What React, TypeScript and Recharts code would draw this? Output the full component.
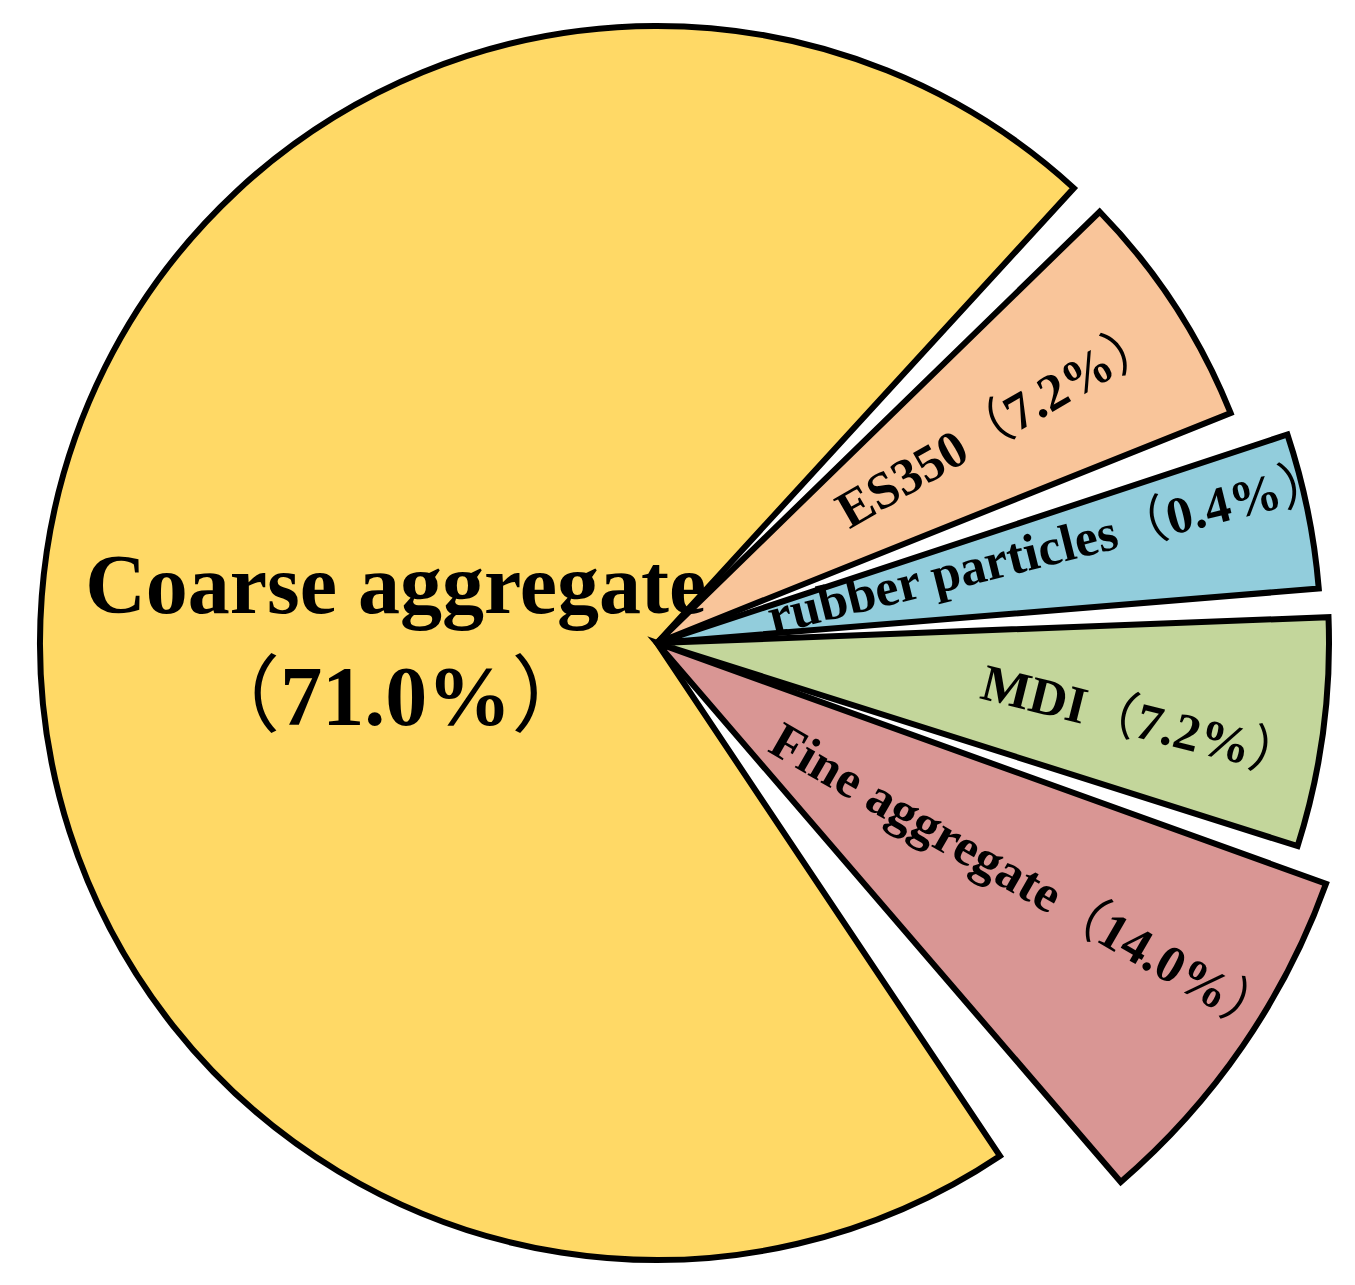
import React from 'react';
import { PieChart, Pie, Cell } from 'recharts';

// Slices in drawing order (counter-clockwise from the top-right edge of the big slice)
const categories = ['Coarse aggregate', 'Fine aggregate', 'MDI', 'rubber particles', 'ES350'];
// Percentages printed in the labels
const shareLabels = ['71.0', '14.0', '7.2', '0.4', '7.2'];
// Angular size of each drawn slice (degrees)
const sliceSweeps = [256.3, 29.5, 19.8, 13.6, 22.4];
// White gap that follows each slice (degrees)
const gapSweeps = [6.95, 2.2, 2.5, 3.55, 3.25];

const colors = ['#FFD966', '#D99694', '#C3D69B', '#92CDDC', '#F9C59A'];
const outerRadii = [617, 711, 672, 664, 618];

const labelLayout = [
  { r: 262, shift: 0, rotate: 0, size: 84 },
  { r: 436, shift: 1.7, rotate: 30, size: 52 },
  { r: 491, shift: -1.45, rotate: 14, size: 52 },
  { r: 404, shift: 2.15, rotate: -14, size: 52 },
  { r: 405, shift: -0.3, rotate: -30, size: 52 },
];

const pieData = categories.flatMap((name, i) => [
  { name, value: sliceSweeps[i], slice: i },
  { name: `gap-${i}`, value: gapSweeps[i], slice: -1 },
]);

const START = 47.5;
const CX = 657;
const CY = 643;
const STROKE_W = 6;
const FONT = "'Times New Roman', 'Liberation Serif', 'Noto Sans CJK SC', serif";

const renderLabel = (props: any) => {
  const { cx, cy, midAngle, payload } = props;
  const i = payload ? payload.slice : -1;
  if (i === undefined || i < 0) return null;
  const lay = labelLayout[i];
  const ang = ((midAngle + lay.shift) * Math.PI) / 180;
  const x = cx + lay.r * Math.cos(ang);
  const y = cy - lay.r * Math.sin(ang);
  if (i === 0) {
    return (
      <text
        x={x}
        y={y}
        textAnchor="middle"
        fontFamily={FONT}
        fontWeight="bold"
        fontSize={lay.size}
        fill="#000"
      >
        <tspan x={x} dy={-10}>{categories[i]}</tspan>
        <tspan x={x} dy={112}>
          <tspan fontWeight="normal">（</tspan>
          {shareLabels[i]}%
          <tspan fontWeight="normal">）</tspan>
        </tspan>
      </text>
    );
  }
  return (
    <g transform={`translate(${x},${y}) rotate(${lay.rotate})`}>
      <text
        x={0}
        y={lay.size * 0.33}
        textAnchor="middle"
        fontFamily={FONT}
        fontWeight="bold"
        fontSize={lay.size}
        fill="#000"
      >
        {categories[i]}
        <tspan fontWeight="normal">（</tspan>
        {shareLabels[i]}%
        <tspan fontWeight="normal">）</tspan>
      </text>
    </g>
  );
};

export default function App() {
  return (
    <div style={{ position: 'absolute', left: 0, top: 0, width: 1355, height: 1285, background: '#fff' }}>
      <PieChart width={1355} height={1285} margin={{ top: 0, right: 0, bottom: 0, left: 0 }}>
        {categories.map((_, s) => (
          <Pie
            key={`pie-${s}`}
            data={pieData}
            dataKey="value"
            nameKey="name"
            cx={CX}
            cy={CY}
            innerRadius={0}
            outerRadius={outerRadii[s]}
            startAngle={START}
            endAngle={START + 360}
            paddingAngle={0}
            stroke="#000"
            strokeWidth={STROKE_W}
            isAnimationActive={false}
            labelLine={false}
          >
            {pieData.map((d, k) => (
              <Cell
                key={`c-${s}-${k}`}
                fill={d.slice === s ? colors[s] : 'none'}
                stroke={d.slice === s ? '#000' : 'none'}
                strokeWidth={STROKE_W}
                strokeLinejoin="miter"
              />
            ))}
          </Pie>
        ))}
        <Pie
          data={pieData}
          dataKey="value"
          nameKey="name"
          cx={CX}
          cy={CY}
          innerRadius={0}
          outerRadius={617}
          startAngle={START}
          endAngle={START + 360}
          stroke="none"
          isAnimationActive={false}
          labelLine={false}
          label={renderLabel}
        >
          {pieData.map((_, k) => (
            <Cell key={`l-${k}`} fill="none" stroke="none" />
          ))}
        </Pie>
      </PieChart>
    </div>
  );
}
